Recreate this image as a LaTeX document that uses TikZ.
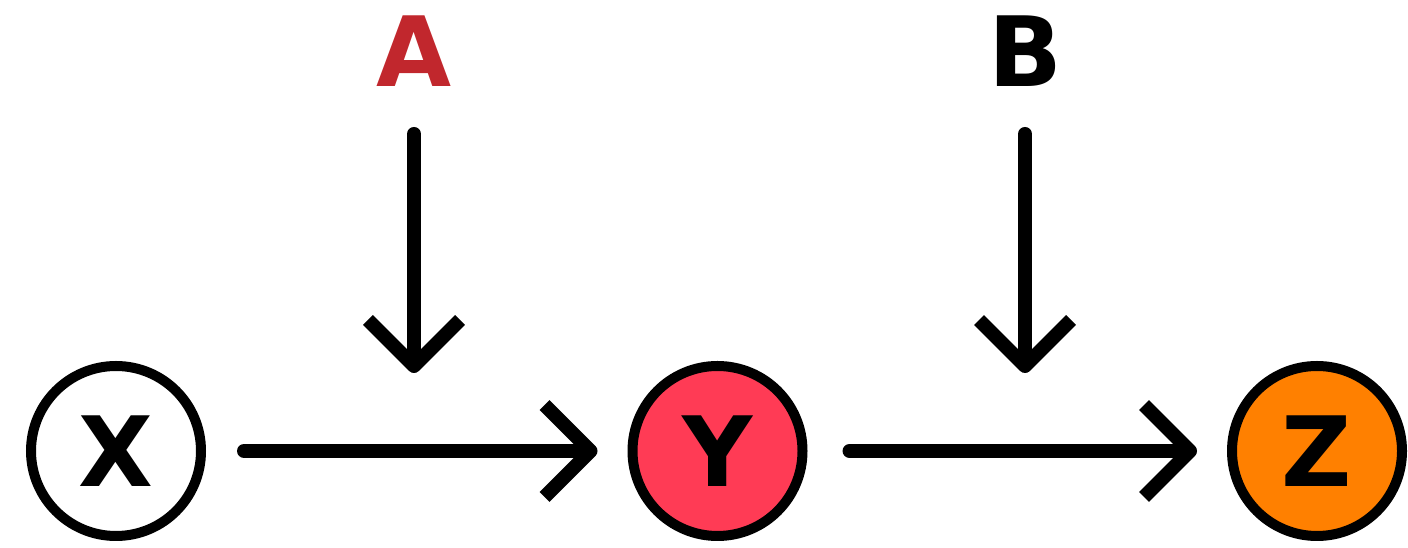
\documentclass[tikz,border=0pt]{standalone}
\usepackage{fontspec}
\setmainfont{DejaVu Sans}
\usetikzlibrary{arrows.meta}
\definecolor{redA}{HTML}{C1272D}
\definecolor{yfill}{HTML}{FF3B55}
\definecolor{zfill}{HTML}{FF8000}
\begin{document}
\begin{tikzpicture}[x=1pt,y=1pt,
  var/.style={circle,draw=black,line width=10pt,minimum size=170pt,inner sep=0pt,
    font=\fontsize{97}{97}\selectfont\bfseries},
  lab/.style={inner sep=0pt,anchor=south,font=\fontsize{97}{97}\selectfont\bfseries},
  conn/.style={line width=14pt,line cap=round,line join=round,
    -{Straight Barb[length=46pt,width=92pt,line cap=butt,line join=round]}}
]
\useasboundingbox (0,0) rectangle (1408,548);
\node[var,fill=white] (X) at (116,97) {X};
\node[var,fill=yfill] (Y) at (717.5,97) {Y};
\node[var,fill=zfill] (Z) at (1317,97) {Z};
\node[lab,text=redA] (A) at (414,461) {A};
\node[lab] (B) at (1025,461) {B};
\coordinate (ta) at (414,175);
\coordinate (tb) at (1025,175);
\draw[conn,shorten <=38pt,shorten >=30pt] (X) -- (Y);
\draw[conn,shorten <=42pt,shorten >=30pt] (Y) -- (Z);
\draw[conn,shorten <=47pt] (A.south) -- (ta);
\draw[conn,shorten <=47pt] (B.south) -- (tb);
\end{tikzpicture}
\end{document}
